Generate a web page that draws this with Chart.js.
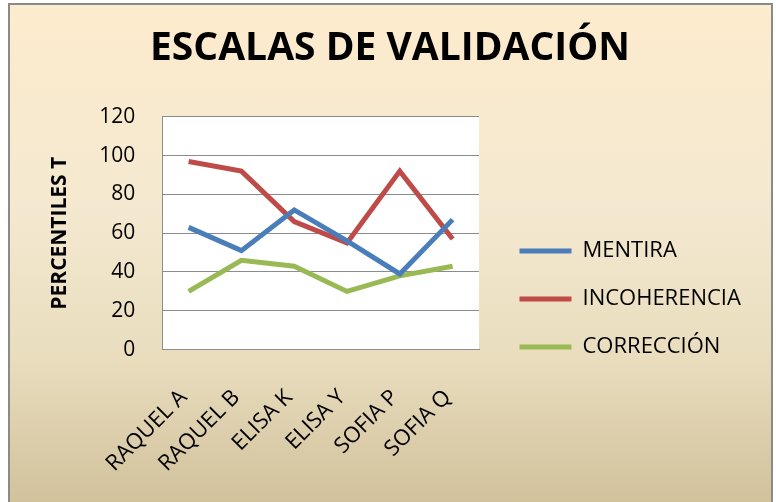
<!DOCTYPE html>
<html>
<head>
<meta charset="utf-8">
<script src="https://cdn.jsdelivr.net/npm/chart.js@4"></script>
<style>
  html, body { margin:0; padding:0; background:#fff; overflow:hidden; }
  #frame {
    position:absolute; left:8px; top:3px; width:765px; height:510px;
    box-sizing:border-box; border:2px solid #8a8a8a;
    background:linear-gradient(to bottom, #fdebcd 0%, #f4e9d0 40%, #e9ddbe 70%, #d0c09a 100%);
  }
  #wrap { position:absolute; left:0; top:0; width:776px; height:502px; }
</style>
</head>
<body>
<div id="frame"></div>
<div id="wrap"><canvas id="chart" width="776" height="502"></canvas></div>
<script>
const categories   = ['RAQUEL A', 'RAQUEL B', 'ELISA K', 'ELISA Y', 'SOFIA P', 'SOFIA Q'];
const mentira      = [63, 51, 72, 56, 39, 67];
const incoherencia = [97, 92, 66, 55, 92, 57];
const correccion   = [30, 46, 43, 30, 38, 43];
const yTicks       = [0, 20, 40, 60, 80, 100, 120];

// legend box runs from the plot's right edge; items pushed right / down
const LEGEND_WIDTH = 254;
const LEGEND_DX = 14.5;
const LEGEND_DY = 43;

Chart.defaults.font.family = '"Open Sans", Lato, sans-serif';
Chart.defaults.color = '#000';

// white plot area
const plotBg = {
    id: 'plotBg',
    beforeDraw(chart) {
        const { ctx, chartArea: a } = chart;
        ctx.save();
        ctx.fillStyle = '#fff';
        ctx.fillRect(a.left, a.top, a.width, a.height);
        ctx.restore();
    }
};

const legendPos = {
    id: 'legendPos',
    beforeInit(chart) {
        const fit = chart.legend.fit;
        chart.legend.fit = function () { fit.call(this); this.width = LEGEND_WIDTH; };
    },
    afterLayout(chart) {
        const lg = chart.legend;
        lg.left += LEGEND_DX; lg.right = chart.width; lg.width = lg.right - lg.left;
        lg.top += LEGEND_DY;  lg.bottom += LEGEND_DY;
    }
};

const series = [
    { label: 'MENTIRA',      data: mentira,      color: '#4a7ebb' },
    { label: 'INCOHERENCIA', data: incoherencia, color: '#be4b48' },
    { label: 'CORRECCIÓN',   data: correccion,   color: '#98b954' }
];

new Chart(document.getElementById('chart'), {
    type: 'line',
    data: {
        labels: categories,
        datasets: series.map(s => ({
            label: s.label, data: s.data,
            borderColor: s.color, backgroundColor: s.color,
            borderWidth: 5, pointRadius: 0, tension: 0, fill: false
        }))
    },
    options: {
        responsive: false, animation: false,
        layout: { padding: { left: 47, right: 43, top: 0, bottom: -10 } },
        plugins: {
            title: {
                display: true, text: 'ESCALAS DE VALIDACIÓN', color: '#000',
                font: { size: 39, weight: 'bold' }, padding: { top: 25, bottom: 45 }
            },
            legend: {
                position: 'right',
                labels: {
                    boxWidth: 52, boxHeight: 5, padding: 26, color: '#000', font: { size: 22 },
                    generateLabels: chart => Chart.defaults.plugins.legend.labels.generateLabels(chart)
                        .map(l => ({ ...l, lineWidth: 0 }))
                }
            },
            tooltip: { enabled: false }
        },
        scales: {
            x: {
                offset: true,
                grid: { display: false, drawTicks: false },
                border: { color: '#8c8c8c' },
                ticks: { color: '#000', font: { size: 22 }, minRotation: 45, maxRotation: 45, padding: 35, labelOffset: -5 }
            },
            y: {
                min: 0, max: 120,
                afterBuildTicks: axis => { axis.ticks = yTicks.map(v => ({ value: v })); },
                grid: { color: '#8c8c8c', drawTicks: false },
                border: { color: '#8c8c8c' },
                ticks: { color: '#000', font: { size: 21 }, padding: 27 },
                title: {
                    display: true, text: 'PERCENTILES T', color: '#000',
                    font: { size: 21, weight: 'bold' }, padding: { top: 0, bottom: 0 }
                }
            }
        }
    },
    plugins: [plotBg, legendPos]
});
</script>
</body>
</html>
